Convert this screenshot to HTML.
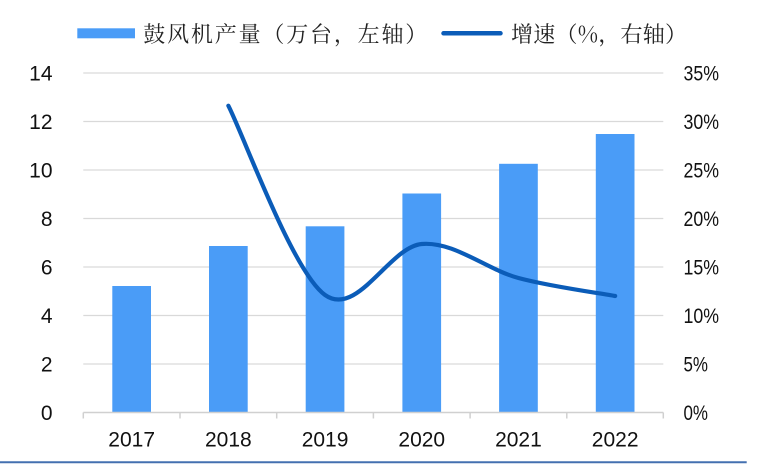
<!DOCTYPE html>
<html>
<head>
<meta charset="utf-8">
<style>
  html,body{margin:0;padding:0;background:#fff;}
  svg{display:block;}
</style>
</head>
<body>
<svg width="773" height="475" viewBox="0 0 773 475" xmlns="http://www.w3.org/2000/svg">
  <rect x="0" y="0" width="773" height="475" fill="#ffffff"/>

  <!-- Legend -->
  <rect x="77.3" y="28.3" width="57.7" height="10" fill="#4a9cf7"/>
  <text x="143.3" y="42" font-family="'Noto Serif CJK SC','Liberation Serif',serif" font-size="22" fill="#222" textLength="284" lengthAdjust="spacing">鼓风机产量（万台，左轴）</text>
  <line x1="443.5" y1="33.3" x2="500.5" y2="33.3" stroke="#0b5cb8" stroke-width="4.5" stroke-linecap="round"/>
  <text x="511" y="42" font-family="'Noto Serif CJK SC','Liberation Serif',serif" font-size="22" fill="#222" textLength="176" lengthAdjust="spacing">增速（%，右轴）</text>

  <!-- Gridlines -->
  <g stroke="#d9d9d9" stroke-width="1.2">
    <line x1="83.3" y1="364" x2="663.3" y2="364"/>
    <line x1="83.3" y1="315.5" x2="663.3" y2="315.5"/>
    <line x1="83.3" y1="267" x2="663.3" y2="267"/>
    <line x1="83.3" y1="218.5" x2="663.3" y2="218.5"/>
    <line x1="83.3" y1="170" x2="663.3" y2="170"/>
    <line x1="83.3" y1="121.5" x2="663.3" y2="121.5"/>
    <line x1="83.3" y1="73" x2="663.3" y2="73"/>
  </g>

  <!-- Bars -->
  <g fill="#4a9cf7">
    <rect x="112.3" y="286" width="38.7" height="126.5"/>
    <rect x="209" y="246" width="38.7" height="166.5"/>
    <rect x="305.7" y="226.3" width="38.7" height="186.2"/>
    <rect x="402.4" y="193.5" width="38.7" height="219"/>
    <rect x="499.1" y="163.8" width="38.7" height="248.7"/>
    <rect x="595.8" y="134" width="38.7" height="278.5"/>
  </g>

  <!-- X axis -->
  <g stroke="#d0d0d0" stroke-width="1.5">
    <line x1="83.3" y1="412.5" x2="663.3" y2="412.5"/>
    <line x1="83.3" y1="412.5" x2="83.3" y2="418.5"/>
    <line x1="180" y1="412.5" x2="180" y2="418.5"/>
    <line x1="276.7" y1="412.5" x2="276.7" y2="418.5"/>
    <line x1="373.4" y1="412.5" x2="373.4" y2="418.5"/>
    <line x1="470.1" y1="412.5" x2="470.1" y2="418.5"/>
    <line x1="566.8" y1="412.5" x2="566.8" y2="418.5"/>
    <line x1="663.3" y1="412.5" x2="663.3" y2="418.5"/>
  </g>

  <!-- Line series -->
  <path d="M228.35,105.7 C244.45,137.25 292.82,271.95 325.05,295 C357.28,318.05 389.52,246.83 421.75,244 C453.98,241.17 486.22,269.33 518.45,278 C550.68,286.67 599.05,293 615.15,296"
        fill="none" stroke="#0b5cb8" stroke-width="4.2" stroke-linecap="round" stroke-linejoin="round"/>

  <!-- Left axis labels -->
  <g font-family="'Liberation Sans',sans-serif" font-size="21" fill="#111" text-anchor="end">
    <text x="52.5" y="420">0</text>
    <text x="52.5" y="371.5">2</text>
    <text x="52.5" y="323">4</text>
    <text x="52.5" y="274.5">6</text>
    <text x="52.5" y="226">8</text>
    <text x="52.5" y="177.5">10</text>
    <text x="52.5" y="129">12</text>
    <text x="52.5" y="80.5">14</text>
  </g>

  <!-- Right axis labels -->
  <g font-family="'Liberation Sans',sans-serif" font-size="21" fill="#111">
    <text x="683.5" y="420" textLength="24.5" lengthAdjust="spacingAndGlyphs">0%</text>
    <text x="683.5" y="371.5" textLength="24.5" lengthAdjust="spacingAndGlyphs">5%</text>
    <text x="683.5" y="323" textLength="35.5" lengthAdjust="spacingAndGlyphs">10%</text>
    <text x="683.5" y="274.5" textLength="35.5" lengthAdjust="spacingAndGlyphs">15%</text>
    <text x="683.5" y="226" textLength="35.5" lengthAdjust="spacingAndGlyphs">20%</text>
    <text x="683.5" y="177.5" textLength="35.5" lengthAdjust="spacingAndGlyphs">25%</text>
    <text x="683.5" y="129" textLength="35.5" lengthAdjust="spacingAndGlyphs">30%</text>
    <text x="683.5" y="80.5" textLength="35.5" lengthAdjust="spacingAndGlyphs">35%</text>
  </g>

  <!-- X labels -->
  <g font-family="'Liberation Sans',sans-serif" font-size="21" fill="#111" text-anchor="middle">
    <text x="131.65" y="446.5">2017</text>
    <text x="228.35" y="446.5">2018</text>
    <text x="325.05" y="446.5">2019</text>
    <text x="421.75" y="446.5">2020</text>
    <text x="518.45" y="446.5">2021</text>
    <text x="615.15" y="446.5">2022</text>
  </g>

  <!-- Bottom rule -->
  <line x1="0" y1="462.3" x2="746.7" y2="462.3" stroke="#4470b0" stroke-width="2"/>
</svg>
</body>
</html>
